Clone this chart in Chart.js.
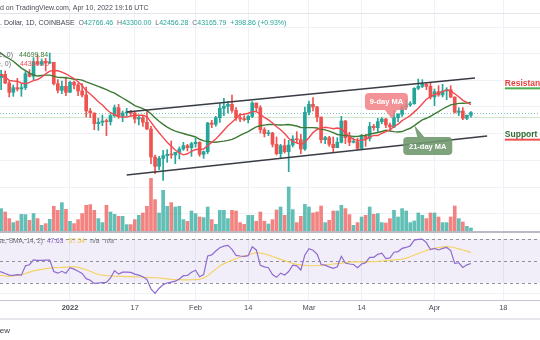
<!DOCTYPE html>
<html>
<head>
<meta charset="utf-8">
<title>BTCUSD 1D</title>
<script src="https://cdn.jsdelivr.net/npm/chart.js@4/dist/chart.umd.min.js"></script>
<style>
  html, body { margin: 0; padding: 0; background: #fff; }
  #wrap { position: relative; width: 540px; height: 340px; overflow: hidden; }
  #wrap canvas { position: absolute; left: 0; }
  #price { top: 0; }
  #rsi { top: 232px; }
  #overlay { top: 0; pointer-events: none; }
</style>
</head>
<body>
<div id="wrap">
  <canvas id="price" width="540" height="232"></canvas>
  <canvas id="rsi" width="540" height="83"></canvas>
  <canvas id="overlay" width="540" height="340"></canvas>
</div>
<script>
// daily candles, first one is 2021-12-14
const firstDate = '2021-12-14';

const opens = [
  46700, 48400, 48900, 47600, 46200, 46900, 46700, 46900, 49000, 48600, 50800, 50400, 50800, 50600, 50700, 47500, 46500, 47100,
  46200, 47700, 47300, 46400, 45800, 43400, 43100, 41500, 41700, 41900, 41800, 42700, 43900, 42600, 43100, 43200, 43100, 42200, 42400, 41700, 40700, 36500, 35100, 36300, 36700, 36900, 36800, 37200, 37700, 38200, 37900,
  38500, 38700, 36900, 37300, 41600, 41400, 42400, 43800, 44100, 44400, 43500, 42400, 42200, 42100, 42600, 44600, 43900, 40600, 40000, 40100, 38400, 37000, 38200, 37300, 38300, 39200, 39100, 37700,
  43200, 44400, 44000, 42500, 39100, 39400, 38400, 37900, 38700, 41900, 39400, 38700, 38800, 37800, 39700, 39300, 41100, 40900, 41800, 42200, 41300, 41000, 42400, 42900, 44000, 44300, 44500, 46800, 47100, 47400, 47100,
  45500, 46300, 45800, 46400, 46600, 45500, 43200, 43400, 42300, 42766.46
];
const highs = [
  48700, 49500, 49400, 47900, 47300, 48300, 47500, 49300, 49600, 51400, 51800, 51200, 51300, 52100, 50700, 48100, 47900, 48500,
  47900, 47900, 47600, 47500, 47000, 43800, 43100, 42300, 42800, 42200, 43000, 44300, 44400, 43400, 43800, 43500, 43200, 42600, 42600, 43500, 41100, 36800, 36600, 37500, 37600, 38900, 37200, 38000, 38700, 38400, 38700,
  39300, 38800, 37400, 41700, 42000, 42600, 44500, 45300, 44800, 45800, 43900, 43000, 42700, 42800, 44800, 44600, 44200, 40900, 40500, 40200, 39500, 38400, 39200, 39000, 39700, 40300, 39900, 44000,
  44900, 45400, 44100, 42500, 39600, 39600, 39500, 39400, 42600, 42000, 40200, 39400, 39300, 39900, 39900, 41700, 41400, 42300, 42400, 42300, 41600, 43400, 43000, 44200, 45100, 44800, 46900, 48200, 48100, 47700, 47600,
  46700, 47200, 47400, 46900, 47200, 45500, 43900, 43900, 42800, 43300
];
const lows = [
  46300, 46600, 47500, 45500, 45600, 46400, 45600, 46600, 48500, 48100, 50400, 50200, 49400, 50500, 47300, 46100, 46000, 45700,
  46200, 46700, 45700, 45500, 42500, 42400, 40600, 40500, 41200, 39700, 41300, 42500, 42300, 41800, 42600, 42600, 41600, 41300, 41100, 40600, 35500, 34000, 34600, 33000, 35700, 36300, 35500, 36200, 37500, 37400, 36600,
  38000, 36600, 36300, 37000, 40900, 41100, 41700, 42700, 43100, 43200, 42000, 41800, 41900, 41600, 42400, 43300, 40100, 39500, 39700, 38000, 36800, 36400, 37100, 34300, 38000, 38600, 37000, 37500,
  42800, 43400, 41800, 38600, 38500, 38100, 37200, 37900, 38600, 38500, 38200, 38600, 37600, 37600, 38100, 38900, 40500, 40200, 41500, 40900, 40500, 40900, 41800, 42600, 43600, 44100, 44400, 46600, 46900, 46600, 45200,
  44200, 45600, 45500, 45100, 45400, 43100, 42700, 42100, 42100, 42456.28
];
const closes = [
  48400, 48900, 47600, 46200, 46900, 46700, 46900, 49000, 48600, 50800, 50400, 50800, 50600, 50700, 47500, 46500, 47100, 46200,
  47700, 47300, 46400, 45800, 43400, 43100, 41500, 41700, 41900, 41800, 42700, 43900, 42600, 43100, 43200, 43100, 42200, 42400, 41700, 40700, 36500, 35100, 36300, 36700, 36900, 36800, 37200, 37700, 38200, 37900, 38500,
  38700, 36900, 37300, 41600, 41400, 42400, 43800, 44100, 44400, 43500, 42400, 42200, 42100, 42600, 44600, 43900, 40600, 40000, 40100, 38400, 37000, 38200, 37300, 38300, 39200, 39100, 37700, 43200,
  44400, 44000, 42500, 39100, 39400, 38400, 37900, 38700, 41900, 39400, 38700, 38800, 37800, 39700, 39300, 41100, 40900, 41800, 42200, 41300, 41000, 42400, 42900, 44000, 44300, 44500, 46800, 47100, 47400, 47100, 45500,
  46300, 45800, 46400, 46600, 45500, 43200, 43400, 42300, 42766.93, 43165.79
];
const volumes = [
  13000, 15200, 13000, 8700, 6100, 7150, 11500, 11300, 7600, 12000, 8700, 4350, 5450, 8250, 16700, 14100, 19100, 14750,
  6950, 5450, 8050, 11950, 17350, 17800, 14100, 8700, 6100, 17350, 13000, 11500, 10200, 10200, 4800, 4800, 8050, 10850, 12350, 16700, 34900, 21050, 12350, 27100, 16700, 19100, 16250, 16700, 8050, 6950, 13650,
  11950, 9750, 9350, 16250, 8050, 5000, 14100, 14100, 8700, 14100, 13650, 6100, 5000, 10850, 10850, 6950, 13000, 7000, 5200, 8050, 14300, 16250, 10850, 29250, 14550, 6100, 10200, 18000,
  16250, 12350, 13000, 16900, 6100, 7600, 13650, 13650, 17350, 15200, 11300, 4350, 6100, 9750, 10850, 16250, 11500, 11950, 6100, 5850, 8700, 14100, 9750, 15200, 13650, 6100, 7150, 12350, 10850, 8700, 12350,
  12350, 9750, 6100, 6100, 9750, 16900, 8700, 6500, 3700, 2600
];
const ma9 = [
  48990, 48800, 48480, 47990, 47910, 47870, 47600, 47480, 47690, 47960, 48120, 48480, 48970, 49390, 49480, 49430, 49220, 48960,
  48610, 48270, 47780, 47240, 46430, 45940, 45390, 44790, 44310, 43660, 43140, 42870, 42510, 42480, 42490, 42670, 42720, 42780, 42770, 42540, 41720, 40890, 40130, 39410, 38720, 38120, 37540, 37100, 36820, 36980, 37360,
  37620, 37640, 37690, 38220, 38690, 39210, 39830, 40520, 41180, 41710, 42320, 42870, 42920, 43060, 43300, 43310, 42920, 42430, 42060, 41610, 41030, 40600, 40010, 39310, 38790, 38620, 38370, 38710,
  39380, 40160, 40630, 40830, 40960, 40870, 40730, 40840, 40700, 40140, 39560, 39140, 39000, 39030, 39130, 39490, 39730, 39720, 40030, 40320, 40570, 41080, 41430, 41960, 42310, 42710, 43270, 43810, 44490, 45170, 45510,
  45890, 46090, 46320, 46560, 46410, 45980, 45530, 45000, 44700, 44351.7
];
const ma21 = [
  52410, 52060, 51600, 51240, 50870, 50360, 49840, 49460, 49070, 48800, 48640, 48720, 48780, 48780, 48640, 48440, 48420, 48380,
  48300, 48170, 48150, 48030, 47770, 47550, 47330, 47080, 46850, 46610, 46310, 46090, 45700, 45350, 44990, 44630, 44220, 43980, 43750, 43450, 42990, 42390, 41860, 41400, 40980, 40660, 40380, 40200, 40030, 39840, 39690,
  39500, 39160, 38910, 38840, 38750, 38720, 38800, 38880, 39000, 39140, 39420, 39760, 40030, 40310, 40680, 41020, 41180, 41290, 41380, 41400, 41330, 41310, 41330, 41380, 41260, 41150, 40930, 40900,
  40910, 40900, 40850, 40690, 40560, 40380, 40160, 39880, 39780, 39720, 39660, 39600, 39570, 39700, 39750, 39930, 40060, 40180, 40330, 40500, 40400, 40300, 40250, 40320, 40570, 40810, 41210, 41650, 42060, 42310, 42600,
  42960, 43300, 43700, 44030, 44330, 44430, 44550, 44570, 44600, 44699.84
];
const rsi = [
  40.3, 40.0, 38.5, 37.0, 36.8, 37.5, 37.0, 45.5, 46.5, 51.0, 50.5, 50.5, 50.8, 50.8, 40.3, 38.8, 40.5, 38.8,
  43.8, 42.5, 40.5, 38.5, 33.8, 32.3, 29.4, 29.8, 30.2, 30.4, 34.4, 41.1, 37.9, 39.7, 39.7, 39.5, 37.9, 37.0, 35.5, 33.0, 24.5, 20.4, 25.0, 28.2, 29.8, 30.6, 31.5, 33.5, 36.5, 36.8, 39.7,
  41.5, 35.5, 37.5, 54.5, 55.5, 59.0, 62.0, 63.5, 64.2, 60.5, 55.0, 54.5, 54.2, 54.8, 63.0, 60.0, 46.0, 44.5, 43.8, 37.5, 35.0, 38.8, 37.1, 40.3, 46.1, 45.5, 41.7, 55.5,
  61.2, 59.7, 56.3, 46.7, 46.1, 44.6, 43.2, 44.6, 54.2, 48.1, 47.2, 46.7, 43.8, 47.2, 48.4, 53.3, 53.3, 56.0, 57.0, 52.1, 52.7, 57.9, 58.5, 61.4, 62.3, 63.7, 69.0, 69.6, 69.8, 66.7, 60.3,
  61.4, 60.0, 61.4, 62.3, 59.4, 47.8, 48.3, 44.0, 46.4, 47.63
];
const rsiMa = [
  36.8, 36.8, 36.3, 35.9, 36.2, 36.8, 37.4, 38.5, 39.8, 40.9, 41.6, 42.3, 42.9, 43.4, 43.8, 44.0, 44.1, 44.3,
  44.5, 44.6, 44.3, 43.0, 41.9, 40.5, 39.0, 37.6, 37.0, 36.6, 36.3, 36.0, 35.9, 35.8, 35.7, 35.6, 35.5, 35.3, 35.1, 35.0, 34.8, 34.6, 34.4, 34.0, 33.6, 33.2, 32.9, 32.8, 32.7, 32.7, 32.8,
  32.9, 33.0, 34.5, 36.5, 39.5, 42.5, 45.5, 47.5, 49.0, 50.7, 52.2, 53.3, 54.3, 55.2, 56.5, 57.6, 57.2, 56.5, 55.3, 54.0, 52.8, 51.4, 50.2, 49.0, 47.8, 46.8, 46.3, 45.9,
  45.6, 45.6, 45.8, 46.0, 46.3, 46.7, 47.2, 47.6, 48.0, 48.5, 48.9, 49.1, 49.1, 49.1, 49.2, 49.3, 49.4, 49.6, 49.9, 50.2, 50.5, 50.9, 51.3, 51.7, 52.6, 53.8, 55.4, 56.8, 58.1, 59.5, 60.6,
  61.4, 62.2, 62.9, 63.0, 62.7, 62.0, 61.0, 60.0, 58.9, 57.54
];

// time axis
const axisDates = ['2022-01-01', '2022-01-17', '2022-02-01', '2022-02-14', '2022-03-01', '2022-03-14', '2022-04-01', '2022-04-18'];
const axisLabels = ['2022', '17', 'Feb', '14', 'Mar', '14', 'Apr', '18'];
const priceGrid = [28000, 32000, 36000, 40000, 44000, 48000, 52000, 56000];
const rsiLevels = [70, 50, 30];

// hand drawn channel and levels
const upperChannel = [['2022-01-15', 43250], ['2022-04-11', 48350]];
const lowerChannel = [['2022-01-15', 33800], ['2022-04-14', 39650]];
const levels = [['Resistance', 46800], ['Support', 39100]];
const levelsFrom = '2022-04-18';
const guidePrices = [43165.79, 42500];
const maNotes = [['9-day MA', '2022-03-21', 42200], ['21-day MA', '2022-03-27', 41300]];

const FONT = '"Liberation Sans", Arial, sans-serif';
const UP = '#26a69a';
const DOWN = '#ef5350';
const GRID = '#eef1f6';
Chart.defaults.font.family = FONT;

const dayIndex = s => (Date.parse(s) - Date.parse('2022-01-01')) / 86400000;
const start = dayIndex(firstDate);
const xs = closes.map((_, i) => start + i);
const up = closes.map((c, i) => c >= opens[i]);
const axisDays = axisDates.map(dayIndex);
const xMin = -17.28, xMax = 116.05;
const last = closes.length - 1;

const series = arr => xs.map((x, i) => ({ x, y: arr[i] }));
const segment = pts => pts.map(([d, p]) => ({ x: dayIndex(d), y: p }));

const timeAxis = (showLabels) => ({
  type: 'linear',
  min: xMin,
  max: xMax,
  offset: false,
  border: { display: showLabels, color: '#c3c6ce' },
  grid: { color: GRID, drawTicks: false, offset: false },
  ticks: showLabels ? {
    padding: 3,
    color: '#4b4e58',
    autoSkip: false,
    maxRotation: 0,
    font: ctx => ({ family: FONT, size: 7.5, weight: ctx.tick && /^\d{4}$/.test(ctx.tick.label) ? 'bold' : 'normal' }),
    callback: v => axisLabels[axisDays.indexOf(v)]
  } : { display: false },
  afterBuildTicks: s => { s.ticks = axisDays.map(value => ({ value })); }
});

const guides = {
  id: 'guides',
  beforeDatasetsDraw(chart) {
    const { ctx, chartArea: a, scales: { y } } = chart;
    ctx.save();
    ctx.lineWidth = 1;
    guidePrices.forEach((p, i) => {
      const py = Math.round(y.getPixelForValue(p)) + 0.5;
      ctx.setLineDash(i === 0 ? [1, 2] : []);
      ctx.strokeStyle = i === 0 ? 'rgba(38,166,154,0.6)' : 'rgba(120,190,120,0.35)';
      ctx.beginPath();
      ctx.moveTo(a.left, py);
      ctx.lineTo(a.right, py);
      ctx.stroke();
    });
    ctx.restore();
  }
};

const notes = {
  id: 'notes',
  afterDatasetsDraw(chart) {
    const { ctx, chartArea: a, scales: { x, y } } = chart;
    ctx.save();

    // support / resistance tags on the right
    const lx = x.getPixelForValue(dayIndex(levelsFrom)) + 1.5;
    const tagText = ['#e8403f', '#2f6b31'];
    const tagLine = ['#4caf50', '#ef5350'];
    ctx.font = 'bold 8.5px ' + FONT;
    ctx.textBaseline = 'alphabetic';
    levels.forEach(([label, price], i) => {
      const py = y.getPixelForValue(price);
      ctx.fillStyle = tagText[i];
      ctx.fillText(label, lx, py - 2.5);
      ctx.fillStyle = tagLine[i];
      ctx.fillRect(lx, py - 1, a.right - lx, 2);
    });

    // MA callouts
    const boxes = [
      { fill: 'rgba(242,128,133,0.85)', dx: -25, dy: -26, w: 43, h: 17, tail: (tx, ty, b) => [[tx - 5, b.y + b.h], [tx + 7, b.y + b.h], [tx + 2, ty]] },
      { fill: 'rgba(112,152,110,0.9)', dx: -11, dy: 12, w: 49, h: 18, tail: (tx, ty, b) => [[tx + 3, b.y], [tx + 10, b.y], [tx, ty]] }
    ];
    ctx.font = 'bold 7.5px ' + FONT;
    ctx.textAlign = 'center';
    ctx.textBaseline = 'middle';
    maNotes.forEach(([text, date, price], i) => {
      const st = boxes[i];
      const tx = x.getPixelForValue(dayIndex(date));
      const ty = y.getPixelForValue(price);
      const b = { x: tx + st.dx, y: ty + st.dy, w: st.w, h: st.h };
      ctx.fillStyle = st.fill;
      ctx.beginPath();
      ctx.roundRect(b.x, b.y, b.w, b.h, 4);
      ctx.fill();
      const t = st.tail(tx, ty, b);
      ctx.beginPath();
      ctx.moveTo(t[0][0], t[0][1]);
      ctx.lineTo(t[2][0], t[2][1]);
      ctx.lineTo(t[1][0], t[1][1]);
      ctx.closePath();
      ctx.fill();
      ctx.fillStyle = '#fff';
      ctx.fillText(text, b.x + b.w / 2, b.y + b.h / 2 + 0.5);
    });
    ctx.restore();
  }
};

new Chart(document.getElementById('price'), {
  type: 'bar',
  data: {
    datasets: [
      { type: 'line', data: segment(upperChannel), borderColor: '#3a3d45', borderWidth: 1.5, pointRadius: 0, order: 0 },
      { type: 'line', data: segment(lowerChannel), borderColor: '#3a3d45', borderWidth: 1.5, pointRadius: 0, order: 0 },
      { type: 'line', data: series(ma9), borderColor: '#f2494f', borderWidth: 1.4, pointRadius: 0, order: 1 },
      { type: 'line', data: series(ma21), borderColor: '#3d7b35', borderWidth: 1.4, pointRadius: 0, order: 1 },
      {
        data: xs.map((x, i) => ({ x, y: [opens[i], closes[i]] })),
        backgroundColor: up.map(u => u ? UP : DOWN),
        barThickness: 3, minBarLength: 1, grouped: false, order: 2
      },
      {
        data: xs.map((x, i) => ({ x, y: [lows[i], highs[i]] })),
        backgroundColor: up.map(u => u ? UP : DOWN),
        barThickness: 1, grouped: false, order: 3
      },
      {
        yAxisID: 'v',
        data: series(volumes),
        backgroundColor: up.map(u => u ? 'rgba(38,166,154,0.72)' : 'rgba(239,83,80,0.72)'),
        barThickness: 3, grouped: false, order: 4
      }
    ]
  },
  options: {
    responsive: false,
    animation: false,
    events: [],
    layout: { padding: 0 },
    plugins: { legend: { display: false }, tooltip: { enabled: false } },
    scales: {
      x: timeAxis(false),
      y: {
        type: 'linear', min: 25250, max: 60050, beginAtZero: false,
        border: { display: false },
        grid: { color: GRID, drawTicks: false },
        ticks: { display: false },
        afterBuildTicks: s => { s.ticks = priceGrid.map(value => ({ value })); }
      },
      v: { type: 'linear', display: false, min: 0, max: 150800 }
    }
  },
  plugins: [guides, notes]
});

const rsiBands = {
  id: 'rsiBands',
  beforeDatasetsDraw(chart) {
    const { ctx, chartArea: a, scales: { y } } = chart;
    const top = y.getPixelForValue(rsiLevels[0]);
    const bottom = y.getPixelForValue(rsiLevels[rsiLevels.length - 1]);
    ctx.save();
    ctx.fillStyle = 'rgba(126,87,194,0.1)';
    ctx.fillRect(a.left, top, a.right - a.left, bottom - top);
    ctx.strokeStyle = '#8f929b';
    ctx.lineWidth = 1;
    ctx.setLineDash([3, 3]);
    rsiLevels.forEach(v => {
      const py = Math.round(y.getPixelForValue(v)) + 0.5;
      ctx.beginPath();
      ctx.moveTo(a.left, py);
      ctx.lineTo(a.right, py);
      ctx.stroke();
    });
    ctx.restore();
  }
};

new Chart(document.getElementById('rsi'), {
  type: 'line',
  data: {
    datasets: [
      { data: series(rsiMa), borderColor: '#f4d365', borderWidth: 1.2, pointRadius: 0, order: 1 },
      { data: series(rsi), borderColor: '#8e6bd0', borderWidth: 1.2, pointRadius: 0, order: 0 }
    ]
  },
  options: {
    responsive: false,
    animation: false,
    events: [],
    layout: { padding: 0 },
    plugins: { legend: { display: false }, tooltip: { enabled: false } },
    scales: {
      x: timeAxis(true),
      y: {
        type: 'linear', min: 14.3, max: 76.4,
        border: { display: false },
        grid: { color: GRID, drawTicks: false },
        ticks: { display: false },
        afterBuildTicks: s => { s.ticks = [{ value: 20 }]; }
      }
    }
  },
  plugins: [rsiBands]
});

// legends, header and pane separators
const ov = document.getElementById('overlay').getContext('2d');
const GREY = '#6a6d78';
ov.textBaseline = 'middle';

function runText(parts, x, y) {
  parts.forEach(([t, c]) => {
    ov.fillStyle = c;
    ov.fillText(t, x, y);
    x += ov.measureText(t).width;
  });
}

ov.font = '7px ' + FONT;
const published = 'Published on TradingView.com, Apr 10, 2022 19:16 UTC';
ov.fillStyle = '#4b4e58';
ov.fillText(published, -ov.measureText('Publishe').width, 8);
ov.fillStyle = '#e3e5ea';
ov.fillRect(0, 13, 540, 1);

const title = 'Bitcoin / U.S. Dollar, 1D, COINBASE';
const change = closes[last] - closes[last - 1];
const pct = change / closes[last - 1] * 100;
runText([
  [title, '#434651'],
  ['  O', GREY], [opens[last].toFixed(2), UP],
  ['  H', GREY], [highs[last].toFixed(2), UP],
  ['  L', GREY], [lows[last].toFixed(2), UP],
  ['  C', GREY], [closes[last].toFixed(2), UP],
  ['  +' + change.toFixed(2) + ' (+' + pct.toFixed(2) + '%)', UP]
], -ov.measureText('Bitcoin / U.S').width, 23);

// MA legend rows
ov.textAlign = 'right';
ov.fillStyle = GREY;
ov.fillText('MA (21, close, 0)', 13, 55);
ov.fillText('MA (9, close, 0)', 11, 64);
ov.textAlign = 'left';
ov.fillStyle = '#3d7b35';
ov.fillText(ma21[last].toFixed(2), 19, 55);
ov.fillStyle = '#f2494f';
ov.fillText(ma9[last].toFixed(2), 20, 64);

// pane separator
ov.fillStyle = '#b8bbc3';
ov.fillRect(0, 231, 540, 2);

// RSI legend
ov.font = '6.5px ' + FONT;
const rsiTitle = 'RSI (14, close, SMA, 14, 2)';
ov.textAlign = 'right';
ov.fillStyle = GREY;
ov.fillText(rsiTitle, 43, 241.5);
ov.textAlign = 'left';
runText([
  [rsi[last].toFixed(2), '#7e57c2'],
  ['   ', GREY],
  [rsiMa[last].toFixed(2), '#e8c547'],
  ['   n/a   n/a', GREY]
], 47, 241.5);

// bottom strip
ov.fillStyle = '#e6e8ec';
ov.fillRect(0, 318, 540, 2);
ov.font = '8px ' + FONT;
ov.textAlign = 'right';
ov.fillStyle = '#3a3d45';
ov.fillText('TradingView', 10, 331);
</script>
</body>
</html>
